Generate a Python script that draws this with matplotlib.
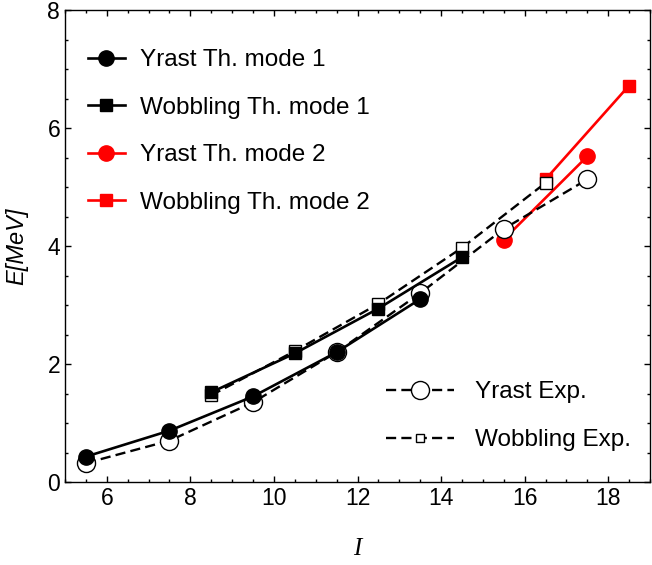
import matplotlib.pyplot as plt
from matplotlib.ticker import MultipleLocator

plt.rcParams['font.family'] = ['Liberation Sans', 'DejaVu Sans']

# theory, mode 1
I_yrast_th1 = [5.5, 7.5, 9.5, 11.5, 13.5]
E_yrast_th1 = [0.43, 0.87, 1.45, 2.20, 3.10]
I_wob_th1 = [8.5, 10.5, 12.5, 14.5]
E_wob_th1 = [1.52, 2.18, 2.94, 3.81]
# theory, mode 2
I_yrast_th2 = [15.5, 17.5]
E_yrast_th2 = [4.11, 5.52]
I_wob_th2 = [16.5, 18.5]
E_wob_th2 = [5.13, 6.72]
# experiment
I_yrast_exp = [5.5, 7.5, 9.5, 11.5, 13.5, 15.5, 17.5]
E_yrast_exp = [0.32, 0.70, 1.35, 2.20, 3.20, 4.29, 5.13]
I_wob_exp = [8.5, 10.5, 12.5, 14.5, 16.5]
E_wob_exp = [1.47, 2.22, 3.02, 3.97, 5.07]

fig = plt.figure(figsize=(6.52, 5.65), dpi=100)
ax = fig.add_axes([65/652, 83/565, 585/652, 472/565])

dash = (0, (4.3, 2.2))
lw = 1.9

# red first, then exp, then black on top
l3, = ax.plot(I_yrast_th2, E_yrast_th2, color='red', lw=lw, marker='o', ms=11, zorder=2, label='Yrast Th. mode 2')
l4, = ax.plot(I_wob_th2, E_wob_th2, color='red', lw=lw, marker='s', ms=8, zorder=2, label='Wobbling Th. mode 2')
e1, = ax.plot(I_yrast_exp, E_yrast_exp, color='black', lw=1.7, ls=dash, marker='o', ms=13,
              mfc='white', mec='black', mew=1.0, zorder=3, label='Yrast Exp.')
e2, = ax.plot(I_wob_exp, E_wob_exp, color='black', lw=1.7, ls=dash, marker='s', ms=8,
              mfc='white', mec='black', mew=1.0, zorder=3, label='Wobbling Exp.')
l1, = ax.plot(I_yrast_th1, E_yrast_th1, color='black', lw=lw, marker='o', ms=11, zorder=4, label='Yrast Th. mode 1')
l2, = ax.plot(I_wob_th1, E_wob_th1, color='black', lw=lw, marker='s', ms=8, zorder=4, label='Wobbling Th. mode 1')

ax.set_xlim(5, 19)
ax.set_ylim(0, 8)
ax.xaxis.set_major_locator(MultipleLocator(2))
ax.xaxis.set_minor_locator(MultipleLocator(0.5))
ax.yaxis.set_major_locator(MultipleLocator(2))
ax.yaxis.set_minor_locator(MultipleLocator(0.5))
ax.tick_params(which='both', direction='in', top=True, right=True, labelsize=16.5, width=1)
ax.tick_params(which='major', length=4.5)
ax.tick_params(which='minor', length=2.5)
for s in ax.spines.values():
    s.set_linewidth(1.0)

ax.set_xlabel('I', family='Liberation Serif', style='italic', fontsize=18, labelpad=20)
ax.set_ylabel('E[MeV]', style='italic', fontsize=17, labelpad=14)

leg1 = ax.legend(handles=[l1, l2, l3, l4], loc='upper left', bbox_to_anchor=(0.039, 0.917),
                 frameon=False, fontsize=17.5, handlelength=1.52, handletextpad=0.62,
                 labelspacing=1.05, borderpad=0, borderaxespad=0)
ax.add_artist(leg1)
leg2 = ax.legend(handles=[e1, e2], loc='upper left', bbox_to_anchor=(0.548, 0.213),
                 frameon=False, fontsize=17.5, handlelength=2.8, handletextpad=0.86,
                 labelspacing=1.05, borderpad=0, borderaxespad=0)
leg2.legend_handles[1].set_markersize(6)

fig.savefig('out.png', dpi=100)
